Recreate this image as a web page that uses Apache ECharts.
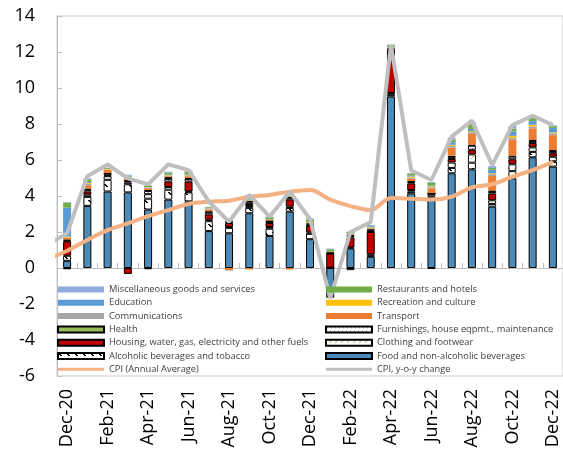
<!DOCTYPE html>
<html>
<head>
<meta charset="utf-8">
<script src="https://cdn.jsdelivr.net/npm/echarts@6/dist/echarts.min.js"></script>
<style>
  html, body { margin: 0; padding: 0; background: #ffffff; }
  #chart { width: 563px; height: 451px; }
</style>
</head>
<body>
<div id="chart"></div>
<script>
// Months on the category axis
const months = ['Dec-20','Jan-21','Feb-21','Mar-21','Apr-21','May-21','Jun-21','Jul-21','Aug-21','Sep-21','Oct-21','Nov-21',
                'Dec-21','Jan-22','Feb-22','Mar-22','Apr-22','May-22','Jun-22','Jul-22','Aug-22','Sep-22','Oct-22','Nov-22','Dec-22'];

// Contributions to y-o-y CPI inflation, percentage points
const food      = [0.40,3.45,4.25,4.20,3.25,3.80,3.70,2.05,1.93,3.04,1.78,3.13,1.60,-1.65,1.09,0.63,9.52,4.15,3.96,5.26,5.48,3.41,4.98,6.15,5.63];
const alcohol   = [0.28,0.50,0.65,0.45,0.60,0.55,0.50,0.55,0.30,0.30,0.40,0.20,0.30,0.02,0.05,0.05,0.10,0.10,0.12,0.30,0.37,0.15,0.40,0.30,0.30];
const clothing  = [-0.07,0.12,0.20,0.10,0.25,0.15,0.05,0.08,0.05,0.10,0.10,0.08,0.08,0.00,-0.12,0.08,0.10,0.08,0.05,0.30,0.46,0.20,0.38,0.25,0.25];
const housing   = [0.80,0.18,0.05,-0.33,-0.07,0.30,0.55,0.30,0.22,0.12,0.22,0.40,0.35,0.78,0.55,1.24,2.40,0.37,0.00,0.20,0.26,0.37,0.28,0.24,0.20];
const furnish   = [0.05,0.10,0.10,0.08,0.18,0.15,0.15,0.12,0.06,0.12,0.10,0.10,0.10,0.03,0.08,0.10,0.05,0.08,-0.03,0.10,0.22,0.10,0.15,0.12,0.12];
const health    = [0.05,0.05,0.03,0.05,0.05,0.10,0.05,0.05,0.04,0.05,0.03,0.03,0.05,0.05,0.08,0.05,0.02,0.05,0.03,0.08,0.06,0.08,0.05,0.05,0.05];
const transport = [0.10,0.20,0.18,0.10,0.10,0.05,0.10,0.10,-0.12,-0.08,0.05,-0.08,0.03,0.00,0.02,0.05,0.03,0.15,0.27,0.45,0.60,0.80,0.90,0.65,0.83];
const comms     = [0.02,0.08,0.02,0.05,0.03,0.05,0.05,0.05,-0.03,0.02,0.02,0.02,0.02,0.00,0.02,0.05,0.02,0.05,0.05,0.10,0.10,0.10,0.10,0.10,0.10];
const recreation= [0.05,0.05,0.02,0.02,0.02,0.02,0.02,0.02,0.02,0.03,0.00,0.02,0.02,0.02,0.02,0.02,0.02,0.05,0.05,0.05,0.05,0.05,0.10,0.10,0.05];
const education = [1.60,0.05,0.00,0.03,0.02,0.03,0.03,0.02,0.00,0.02,0.00,0.00,0.00,0.02,0.03,0.05,0.02,0.05,0.05,0.15,0.12,0.20,0.25,0.20,0.25];
const restaur   = [0.28,0.15,0.05,0.05,0.08,0.10,0.15,0.04,0.03,0.20,0.13,0.03,0.15,0.12,0.06,0.02,0.10,0.12,0.15,0.15,0.30,0.10,0.15,0.20,0.10];
const misc      = [0.03,0.05,0.02,0.05,0.02,0.05,0.05,0.02,0.01,0.05,0.02,0.02,0.05,0.04,0.02,0.05,0.03,0.03,0.05,0.10,0.08,0.10,0.15,0.10,0.05];

// Headline CPI lines; the series begin one month earlier (Nov-20), so the first segment enters from the axis
const lineMonths = ['Nov-20'].concat(months);
const cpiAvg = [0.48,0.96,1.56,2.10,2.48,2.88,3.22,3.56,3.68,3.74,3.96,4.06,4.24,4.33,3.80,3.44,3.22,3.89,3.85,3.80,3.96,4.48,4.65,5.07,5.44,5.90];
const cpiYoy = [1.27,1.93,5.10,5.75,4.98,4.65,5.76,5.44,3.69,2.57,4.06,2.85,4.24,2.72,-1.68,2.00,2.55,12.40,5.42,4.89,7.30,8.19,5.72,7.94,8.46,7.94];

// Value-axis ticks
const yTicks = { min: -6, max: 14, step: 2 };

// Small repeating fills for the hatched categories
function tile(size, bg, fg, pixels) {
  const c = document.createElement('canvas');
  c.width = c.height = size;
  const g = c.getContext('2d');
  g.fillStyle = bg; g.fillRect(0, 0, size, size);
  g.fillStyle = fg;
  pixels.forEach(p => g.fillRect(p[0], p[1], 1, 1));
  return { image: c, repeat: 'repeat' };
}
const foodFill  = tile(4, '#4a88b5', '#5d9bc6', [[0,0],[2,2]]);
const alcFill   = tile(8, '#ffffff', '#000000', [[0,0],[1,1],[2,2],[1,0],[2,1],[3,2]]);
const clothFill = tile(6, '#ffffff', '#8cbf5a', [[5,0],[4,1],[3,2]]);
const furnFill  = tile(4, '#ffffff', '#8c8c8c', [[0,0],[1,1]]);

const FONT = '"Open Sans", "Noto Sans", sans-serif';
const edged = { borderColor: '#000000', borderWidth: 1 };

const barDefs = [
  ['Food and non-alcoholic beverages', food, Object.assign({ color: foodFill }, edged)],
  ['Alcoholic beverages and tobacco', alcohol, Object.assign({ color: alcFill }, edged)],
  ['Clothing and footwear', clothing, Object.assign({ color: clothFill }, edged)],
  ['Housing, water, gas, electricity and other fuels', housing, Object.assign({ color: '#c00000' }, edged)],
  ['Furnishings, house eqpmt., maintenance', furnish, Object.assign({ color: furnFill }, edged)],
  ['Health', health, Object.assign({ color: '#9bbb59' }, edged)],
  ['Transport', transport, { color: '#ed7d31' }],
  ['Communications', comms, { color: '#a5a5a5' }],
  ['Recreation and culture', recreation, { color: '#ffc000' }],
  ['Education', education, { color: '#5b9bd5' }],
  ['Restaurants and hotels', restaur, { color: '#70ad47' }],
  ['Miscellaneous goods and services', misc, { color: '#8faadc' }]
];

const series = barDefs.map(d => ({
  name: d[0],
  type: 'bar',
  stack: 'cpi',
  xAxisIndex: 0,
  barWidth: 8,
  data: d[1],
  itemStyle: d[2]
}));

series.push({
  name: 'CPI (Annual Average)',
  type: 'line',
  xAxisIndex: 2,
  smooth: 0.35,
  symbol: 'none',
  clip: true,
  data: cpiAvg.map((v, k) => [k - 1, v]),
  lineStyle: { color: '#f4b183', width: 4 },
  itemStyle: { color: '#f4b183' }
});
series.push({
  name: 'CPI, y-o-y change',
  type: 'line',
  xAxisIndex: 2,
  symbol: 'none',
  clip: true,
  data: cpiYoy.map((v, k) => [k - 1, v]),
  lineStyle: { color: '#bfbfbf', width: 4 },
  itemStyle: { color: '#bfbfbf' }
});

// Bars get a flat box key, the two CPI lines a thin stroke key
const LINE_KEY = 'path://M0,0H46V3H0Z';
function legendItems(names) {
  return names.map(n => ({ name: n, icon: n.indexOf('CPI') === 0 ? LINE_KEY : 'rect' }));
}
const legendBase = {
  orient: 'vertical',
  top: 283,
  padding: 0,
  itemWidth: 46,
  itemHeight: 6,
  itemGap: 0.3,
  selectedMode: false,
  symbolKeepAspect: true,
  textStyle: { fontFamily: FONT, fontSize: 9.3, lineHeight: 13, color: '#404040' }
};

const chart = echarts.init(document.getElementById('chart'), null, { renderer: 'canvas' });
chart.setOption({
  animation: false,
  backgroundColor: '#ffffff',
  grid: { left: 57, top: 16, width: 507, height: 360, show: true, borderColor: '#c8c8c8', borderWidth: 1 },
  legend: [
    Object.assign({}, legendBase, { left: 57, data: legendItems([
      'Miscellaneous goods and services', 'Education', 'Communications', 'Health',
      'Housing, water, gas, electricity and other fuels', 'Alcoholic beverages and tobacco', 'CPI (Annual Average)']) }),
    Object.assign({}, legendBase, { left: 325, data: legendItems([
      'Restaurants and hotels', 'Recreation and culture', 'Transport', 'Furnishings, house eqpmt., maintenance',
      'Clothing and footwear', 'Food and non-alcoholic beverages', 'CPI, y-o-y change']) })
  ],
  xAxis: [
    {
      type: 'category', data: months, position: 'bottom',
      axisLine: { onZero: true, lineStyle: { color: '#bfbfbf', width: 1 } },
      axisTick: { show: true, inside: true, length: 5, interval: 0, lineStyle: { color: '#bfbfbf' } },
      axisLabel: { show: false }
    },
    {
      type: 'category', data: months, position: 'bottom',
      axisLine: { show: false, onZero: false },
      axisTick: { show: false },
      axisLabel: { show: true, rotate: 90, interval: 1, margin: 13, fontSize: 18, fontFamily: FONT, color: '#000000' }
    },
    { type: 'value', min: -0.5, max: 24.5, show: false }
  ],
  yAxis: {
    type: 'value', min: yTicks.min, max: yTicks.max, interval: yTicks.step, position: 'left',
    axisLine: { show: true, onZero: false, lineStyle: { color: '#bfbfbf', width: 1 } },
    axisTick: { show: true, inside: true, length: 5, lineStyle: { color: '#bfbfbf' } },
    splitLine: { show: false },
    axisLabel: { fontSize: 18, fontFamily: FONT, color: '#000000', margin: 22 }
  },
  series: series
});
</script>
</body>
</html>
